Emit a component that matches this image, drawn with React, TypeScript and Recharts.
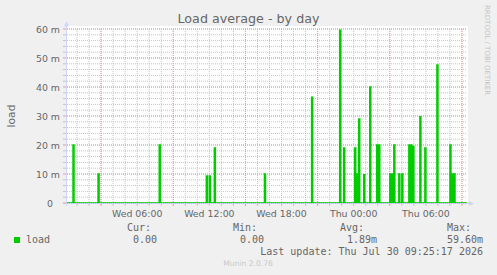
import { ComposedChart, Line, XAxis, YAxis, CartesianGrid } from 'recharts';

// Munin "load" plugin, day view. Time = minutes since Wed 00:00, load in milli-units.
const times = [
  10, 35, 40, 45, 160, 165, 170, 465, 470, 475,
  700, 705, 710, 715, 720, 725, 740, 745, 750,
  990, 995, 1000, 1225, 1230, 1235,
  1365, 1370, 1375, 1385, 1390, 1395,
  1440, 1445, 1450, 1455, 1460, 1465, 1470, 1485, 1490, 1495,
  1515, 1520, 1525, 1550, 1555, 1560, 1565, 1570,
  1615, 1620, 1625, 1630, 1635, 1640, 1645,
  1660, 1665, 1670, 1675, 1680, 1685,
  1710, 1715, 1720, 1725, 1730, 1735, 1740,
  1765, 1770, 1775, 1790, 1795, 1800, 1850, 1855, 1860,
  1915, 1920, 1925, 1930, 1935, 1940, 1945, 2005,
];
const loads = [
  0, 0, 20, 0, 0, 10, 0, 0, 20, 0,
  0, 9.3, 0, 0, 9.3, 0, 0, 19, 0,
  0, 10, 0, 0, 36.5, 0,
  0, 59.6, 0, 0, 19, 0,
  0, 19, 0, 10, 0, 29, 0, 0, 9.7, 0,
  0, 40, 0, 0, 20, 0, 20, 0,
  0, 10, 0, 10, 0, 20, 0,
  0, 10, 0, 0, 10, 0,
  0, 20, 0, 20, 0, 19.5, 0,
  0, 29.7, 0, 0, 19, 0, 0, 47.6, 0,
  0, 20, 0, 10, 0, 10, 0, 0,
];

const labelTimes = [360, 720, 1080, 1440, 1800];
const timeLabels = ['Wed 06:00', 'Wed 12:00', 'Wed 18:00', 'Thu 00:00', 'Thu 06:00'];
const majorTimes = [180, 540, 900, 1260, 1620, 1980];
const loadTicks = [0, 10, 20, 30, 40, 50, 60];
const loadTickLabels = ['0', '10 m', '20 m', '30 m', '40 m', '50 m', '60 m'];

const statNames = ['Cur:', 'Min:', 'Avg:', 'Max:'];
const statValues = ['0.00', '0.00', '1.89m', '59.60m'];

const hourTimes = Array.from({ length: 33 }, (_, i) => (i + 1) * 60);
const minorLoads = Array.from({ length: 31 }, (_, i) => i * 2);

const data = times.map((t, i) => ({ t, load: loads[i] }));

const GREEN = '#00cc00';
const FONT_COLOR = '#666666';
const AXIS = '#cfd6f8';
const MINOR = '#c4c4c4';
const MAJOR = '#eb9a9a';
const SANS = '"DejaVu Sans", sans-serif';
const MONO = '"DejaVu Sans Mono", monospace';

const XTick = (props: any) => {
  const { x, y, payload } = props;
  const v = payload.value;
  const li = labelTimes.indexOf(v);
  return (
    <g>
      <line x1={x} x2={x} y1={y + 1} y2={y + 3} stroke={majorTimes.includes(v) ? MAJOR : MINOR} />
      {li >= 0 && (
        <text x={x} y={y + 14} textAnchor="middle" fontFamily={SANS} fontSize={9.4} fill={FONT_COLOR}>
          {timeLabels[li]}
        </text>
      )}
    </g>
  );
};

const YTick = (props: any) => {
  const { x, y, payload } = props;
  const v = payload.value;
  const li = loadTicks.indexOf(v);
  return (
    <g>
      <line x1={x - 4} x2={x - 1} y1={y} y2={y} stroke={li >= 0 ? MAJOR : MINOR} />
      {li >= 0 && (
        <text x={v === 0 ? x - 14 : x - 7} y={y + 3.5} textAnchor="end" fontFamily={SANS} fontSize={9.4} fill={FONT_COLOR}>
          {loadTickLabels[li]}
        </text>
      )}
    </g>
  );
};

function Frame() {
  const statX = [127, 233, 340, 447];
  const valueX = [133, 240, 347, 447];
  return (
    <svg width={497} height={275} style={{ position: 'absolute', left: 0, top: 0 }}>
      <rect x={0} y={0} width={497} height={275} fill="#f0f0f0" />
      <rect x={67} y={26} width={401} height={177} fill="#ffffff" />
      <line x1={66.5} x2={66.5} y1={206} y2={25} stroke={AXIS} />
      <line x1={63} x2={470} y1={203.5} y2={203.5} stroke={AXIS} />
      <polygon points="64,26.5 69,26.5 66.5,21" fill={AXIS} />
      <polygon points="469,201 469,206 474,203.5" fill={AXIS} />
      <text x={248.5} y={23} textAnchor="middle" fontFamily={SANS} fontSize={12.7} fill={FONT_COLOR}>
        Load average - by day
      </text>
      <text transform="translate(15,116) rotate(-90)" textAnchor="middle" fontFamily={SANS} fontSize={10.7} fill={FONT_COLOR}>
        load
      </text>
      <text transform="translate(485,5) rotate(90)" fontFamily={SANS} fontSize={7} fill="#c4c4c4">
        RRDTOOL / TOBI OETIKER
      </text>
      {statNames.map((s, i) => (
        <text key={s} x={statX[i]} y={231} fontFamily={MONO} fontSize={10} fill={FONT_COLOR}>{s}</text>
      ))}
      <rect x={14} y={237} width={6} height={6} fill={GREEN} />
      <text x={26} y={243} fontFamily={MONO} fontSize={10} fill={FONT_COLOR}>load</text>
      {statValues.map((s, i) => (
        <text key={i} x={valueX[i]} y={243} fontFamily={MONO} fontSize={10} fill={FONT_COLOR}>{s}</text>
      ))}
      <text x={483} y={255} textAnchor="end" fontFamily={MONO} fontSize={10} fill={FONT_COLOR}>
        Last update: Thu Jul 30 09:25:17 2026
      </text>
      <text x={248} y={266} textAnchor="middle" fontFamily={SANS} fontSize={7.6} fill="#c8c8c8">
        Munin 2.0.76
      </text>
    </svg>
  );
}

export default function App() {
  return (
    <div style={{ position: 'absolute', left: 0, top: 0, width: 497, height: 275 }}>
      <Frame />
      <div style={{ position: 'absolute', left: 0, top: 0 }}>
        <ComposedChart width={497} height={275} data={data} margin={{ top: 29, right: 30, bottom: 42, left: 7 }}>
          <CartesianGrid horizontalValues={minorLoads} verticalValues={hourTimes} stroke={MINOR} strokeDasharray="1 1" />
          <CartesianGrid horizontalValues={loadTicks} verticalValues={majorTimes} stroke={MAJOR} strokeDasharray="1 1" />
          <XAxis
            dataKey="t"
            type="number"
            domain={[10, 2005]}
            ticks={hourTimes}
            interval={0}
            height={30}
            tickLine={false}
            axisLine={false}
            tickSize={0}
            tickMargin={0}
            tick={XTick}
            allowDataOverflow
          />
          <YAxis
            type="number"
            domain={[0, 60]}
            ticks={minorLoads}
            interval={0}
            width={60}
            tickLine={false}
            axisLine={false}
            tickSize={0}
            tickMargin={0}
            tick={YTick}
            allowDataOverflow
          />
          <Line
            dataKey="load"
            type="stepAfter"
            stroke={GREEN}
            strokeWidth={1.5}
            dot={false}
            activeDot={false}
            isAnimationActive={false}
          />
        </ComposedChart>
      </div>
    </div>
  );
}
